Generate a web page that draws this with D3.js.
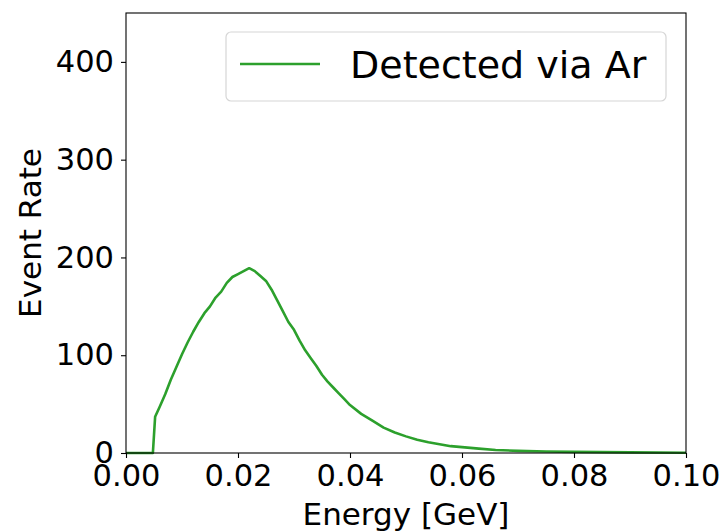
<!DOCTYPE html>
<html>
<head>
<meta charset="utf-8">
<script src="https://cdn.jsdelivr.net/npm/d3@7"></script>
<style>
  body { margin: 0; background: #fff; }
  svg text { font-family: "DejaVu Sans", sans-serif; fill: #000; }
</style>
</head>
<body>
<svg id="chart" width="722" height="531"></svg>
<script>
// values
const energy = [0.000, 0.0048, 0.0052, 0.006, 0.007, 0.008, 0.009, 0.010, 0.011, 0.012,
  0.013, 0.014, 0.015, 0.016, 0.017, 0.018, 0.019, 0.020, 0.021, 0.022,
  0.023, 0.024, 0.025, 0.026, 0.027, 0.028, 0.029, 0.030, 0.031, 0.032,
  0.033, 0.034, 0.035, 0.036, 0.037, 0.038, 0.039, 0.040, 0.042, 0.044,
  0.046, 0.048, 0.050, 0.052, 0.054, 0.056, 0.058, 0.060, 0.063, 0.066,
  0.070, 0.075, 0.080, 0.090, 0.100];
const rate = [0, 0, 37, 47, 60, 75, 88, 101, 113, 124,
  134, 143, 150, 159, 165, 174, 180, 183, 186, 189,
  186, 181, 176, 167, 156, 145, 134, 126, 115, 105,
  97, 89, 80, 73, 67, 61, 55, 49, 40, 33,
  26, 21, 17, 13.5, 11, 9, 7, 6, 4.5, 3,
  2.2, 1.6, 1.1, 0.6, 0.3];
const xTicks = [0, 0.02, 0.04, 0.06, 0.08, 0.10];
const yTicks = [0, 100, 200, 300, 400];
const seriesName = "Detected via Ar";

const margin = { top: 13, right: 36, bottom: 78, left: 126 };
const width = 722, height = 531;
const svg = d3.select("#chart");

const x = d3.scaleLinear().domain([0, 0.1]).range([margin.left, width - margin.right]);
const y = d3.scaleLinear().domain([0, 450]).range([height - margin.bottom, margin.top]);

const data = energy.map((e, i) => ({ e: e, v: rate[i] }));

let line = d3.line()
  .x(d => x(d.e))
  .y(d => y(d.v));

svg.append("path")
  .datum(data)
  .attr("d", line)
  .style("fill", "none")
  .style("stroke", "#2ca02c")
  .style("stroke-width", "2.6px")
  .style("stroke-linejoin", "round");

let xAxis = svg.append("g")
  .attr("transform", `translate(0,${height - margin.bottom})`)
  .call(d3.axisBottom(x).tickValues(xTicks).tickFormat(d3.format(".2f")).tickSize(5).tickPadding(6));

let yAxis = svg.append("g")
  .attr("transform", `translate(${margin.left},0)`)
  .call(d3.axisLeft(y).tickValues(yTicks).tickSize(5).tickPadding(7));

svg.selectAll(".tick text").style("font-size", "30.5px");
svg.selectAll(".tick line").style("stroke", "#000").style("stroke-width", "1.1px");
svg.selectAll(".domain").remove();

// frame
svg.append("rect")
  .attr("x", margin.left)
  .attr("y", margin.top)
  .attr("width", width - margin.left - margin.right)
  .attr("height", height - margin.top - margin.bottom)
  .style("fill", "none")
  .style("stroke", "#000")
  .style("stroke-width", "1.1px");

svg.append("text")
  .attr("text-anchor", "middle")
  .attr("x", (margin.left + width - margin.right) / 2)
  .attr("y", 525)
  .style("font-size", "31px")
  .text("Energy [GeV]");

svg.append("text")
  .attr("text-anchor", "middle")
  .attr("transform", `translate(41,${(margin.top + height - margin.bottom) / 2}) rotate(-90)`)
  .style("font-size", "31px")
  .text("Event Rate");

// legend
let legend = svg.append("g");
legend.append("rect")
  .attr("x", 226).attr("y", 32)
  .attr("width", 440).attr("height", 69)
  .attr("rx", 5)
  .style("fill", "#fff")
  .style("fill-opacity", 0.8)
  .style("stroke", "#d6d6d6")
  .style("stroke-width", "1.2px");
legend.append("line")
  .attr("x1", 240).attr("x2", 320)
  .attr("y1", 64).attr("y2", 64)
  .style("stroke", "#2ca02c")
  .style("stroke-width", "2.6px");
legend.append("text")
  .attr("x", 350).attr("y", 78)
  .style("font-size", "38px")
  .text(seriesName);
</script>
</body>
</html>
